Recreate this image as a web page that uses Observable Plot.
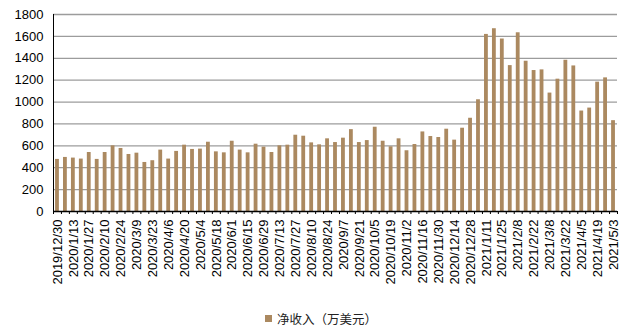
<!DOCTYPE html>
<html><head><meta charset="utf-8">
<script src="https://cdn.jsdelivr.net/npm/d3@7"></script>
<script src="https://cdn.jsdelivr.net/npm/@observablehq/plot@0.6"></script>
<style>
body{margin:0;background:#fff;}
#chart{position:absolute;left:0;top:0;}
#legend{position:absolute;left:265px;top:309px;font-family:"Noto Sans CJK SC";font-size:12.5px;color:#222;display:flex;align-items:center;}
#legend .sw{display:inline-block;width:7px;height:7px;margin-right:5px;}
</style></head><body><div id="chart"></div><div id="legend"></div>
<script>
const weeks = ["2019/12/30","2020/1/6","2020/1/13","2020/1/20","2020/1/27","2020/2/3","2020/2/10","2020/2/17","2020/2/24","2020/3/2","2020/3/9","2020/3/16","2020/3/23","2020/3/30","2020/4/6","2020/4/13","2020/4/20","2020/4/27","2020/5/4","2020/5/11","2020/5/18","2020/5/25","2020/6/1","2020/6/8","2020/6/15","2020/6/22","2020/6/29","2020/7/6","2020/7/13","2020/7/20","2020/7/27","2020/8/3","2020/8/10","2020/8/17","2020/8/24","2020/8/31","2020/9/7","2020/9/14","2020/9/21","2020/9/28","2020/10/5","2020/10/12","2020/10/19","2020/10/26","2020/11/2","2020/11/9","2020/11/16","2020/11/23","2020/11/30","2020/12/7","2020/12/14","2020/12/21","2020/12/28","2021/1/4","2021/1/11","2021/1/18","2021/1/25","2021/2/1","2021/2/8","2021/2/15","2021/2/22","2021/3/1","2021/3/8","2021/3/15","2021/3/22","2021/3/29","2021/4/5","2021/4/12","2021/4/19","2021/4/26","2021/5/3"];
const netRevenue = [476,494,488,479,539,476,539,600,576,521,533,448,464,561,479,549,606,567,570,633,545,536,642,561,536,615,588,539,600,606,697,688,627,609,664,630,670,748,630,648,770,642,591,664,555,612,727,685,676,752,652,761,852,1021,1618,1670,1576,1333,1633,1373,1288,1294,1082,1209,1382,1330,918,945,1182,1221,830];
const yTicks = [0,200,400,600,800,1000,1200,1400,1600,1800];
const seriesName = "净收入（万美元）";
const barColor = "#ab8960";

const idx = d3.range(weeks.length);
const labelIdx = idx.filter(i => i % 2 === 0);
const boundaries = d3.range(-0.5, weeks.length, 1);

const chart = Plot.plot({
  width: 629, height: 300,
  marginLeft: 53, marginRight: 12, marginTop: 14, marginBottom: 89,
  x: {type: "linear", domain: [-0.5, weeks.length - 0.5]},
  y: {domain: [0, 1800]},
  style: {fontFamily: "'Liberation Sans', Arial, sans-serif", fontSize: "13px", color: "#000", background: "#fff"},
  marks: [
    Plot.ruleY(yTicks.filter(v => v > 0), {stroke: "#9c9c9c", strokeWidth: 1.3}),
    Plot.rectY(idx, {x1: i => i - 0.24, x2: i => i + 0.24, y1: 0, y2: i => netRevenue[i], fill: barColor}),
    Plot.ruleX([-0.5], {stroke: "#000", strokeWidth: 1}),
    Plot.ruleY([0], {stroke: "#000", strokeWidth: 1.3}),
    Plot.axisY({ticks: yTicks, tickSize: 0, tickPadding: 10, label: null, fontSize: 13, tickFormat: d => String(d)}),
    Plot.axisX({ticks: boundaries, tickSize: 3, tickFormat: () => "", label: null}),
    Plot.axisX({ticks: labelIdx, tickSize: 0, tickRotate: -90, tickPadding: 8, tickFormat: i => weeks[i], label: null, fontSize: 13})
  ]
});
document.getElementById("chart").appendChild(chart);
document.getElementById("legend").innerHTML = `<span class="sw" style="background:${barColor}"></span><span>${seriesName}</span>`;
</script>
</body></html>
